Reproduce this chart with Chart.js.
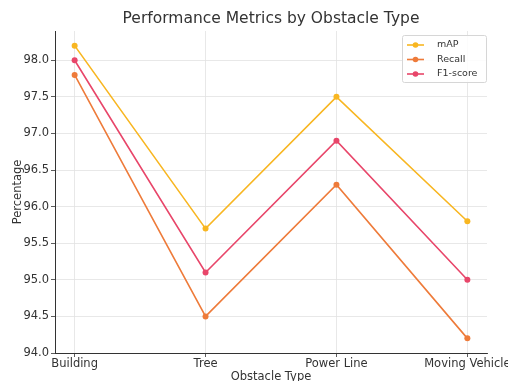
<!DOCTYPE html>
<html>
<head>
<meta charset="utf-8">
<script src="https://cdn.jsdelivr.net/npm/chart.js@4/dist/chart.umd.min.js"></script>
<style>
  html, body { margin: 0; padding: 0; background: #fff; }
  #wrap { width: 508px; height: 381px; }
</style>
</head>
<body>
<div id="wrap"><canvas id="c" width="508" height="381"></canvas></div>
<script>
// Obstacle categories and per-metric scores (%)
const categories = ['Building', 'Tree', 'Power Line', 'Moving Vehicle'];
const mAP = [98.2, 95.7, 97.5, 95.8];
const recall = [97.8, 94.5, 96.3, 94.2];
const f1Score = [98.0, 95.1, 96.9, 95.0];
const yTicks = [94.0, 94.5, 95.0, 95.5, 96.0, 96.5, 97.0, 97.5, 98.0];

const FONT = "'DejaVu Sans', sans-serif";
const TEXT = '#333333';

function toPoints(values) {
  return values.map((v, i) => ({ x: i, y: v }));
}

function series(label, values, color) {
  return {
    label: label,
    data: toPoints(values),
    borderColor: color,
    backgroundColor: color,
    borderWidth: 1.6,
    pointRadius: 3,
    pointHoverRadius: 3,
    pointBorderWidth: 0,
    tension: 0
  };
}

// Title drawn centred over the plot area
const titlePlugin = {
  id: 'plotTitle',
  afterDraw(chart) {
    const { ctx, chartArea } = chart;
    ctx.save();
    ctx.font = '15.5px ' + FONT;
    ctx.fillStyle = TEXT;
    ctx.textAlign = 'center';
    ctx.textBaseline = 'middle';
    ctx.fillText('Performance Metrics by Obstacle Type', (chartArea.left + chartArea.right) / 2, 19);
    ctx.restore();
  }
};

// Boxed legend in the upper-right corner of the plot
const legendPlugin = {
  id: 'boxLegend',
  afterDraw(chart) {
    const { ctx, chartArea } = chart;
    const w = 84, h = 47;
    const x = chartArea.right - w - 1, y = chartArea.top + 4;
    ctx.save();
    ctx.fillStyle = 'rgba(255,255,255,0.85)';
    ctx.strokeStyle = '#d6d6d6';
    ctx.lineWidth = 1;
    ctx.beginPath();
    ctx.roundRect(x + 0.5, y + 0.5, w, h, 2);
    ctx.fill();
    ctx.stroke();
    ctx.font = '9.5px ' + FONT;
    ctx.textBaseline = 'middle';
    ctx.textAlign = 'left';
    chart.data.datasets.forEach((ds, i) => {
      const cy = y + 10 + i * 14.5;
      ctx.strokeStyle = ds.borderColor;
      ctx.fillStyle = ds.borderColor;
      ctx.lineWidth = 1.6;
      ctx.beginPath();
      ctx.moveTo(x + 5, cy);
      ctx.lineTo(x + 22, cy);
      ctx.stroke();
      ctx.beginPath();
      ctx.arc(x + 13.5, cy, 2.8, 0, Math.PI * 2);
      ctx.fill();
      ctx.fillStyle = TEXT;
      ctx.fillText(ds.label, x + 35, cy);
    });
    ctx.restore();
  }
};

const gridStyle = {
  color: '#e2e2e2',
  lineWidth: 0.8,
  borderDash: [2, 1.5],
  drawTicks: true,
  tickLength: 4,
  tickColor: '#333333',
  tickWidth: 0.8,
  tickBorderDash: []
};

new Chart(document.getElementById('c'), {
  type: 'line',
  data: {
    datasets: [
      series('mAP', mAP, '#F8B621'),
      series('Recall', recall, '#EE7B3A'),
      series('F1-score', f1Score, '#E8466A')
    ]
  },
  options: {
    responsive: false,
    animation: false,
    layout: { padding: { top: 31, right: 21, left: 0, bottom: 0 } },
    plugins: {
      legend: { display: false },
      tooltip: { enabled: false },
      title: { display: false }
    },
    scales: {
      x: {
        type: 'linear',
        min: -0.15,
        max: 3.15,
        afterBuildTicks(scale) {
          scale.ticks = categories.map((_, i) => ({ value: i }));
        },
        afterFit(scale) {
          scale.height = 28;
          scale.paddingLeft = 0;
          scale.paddingRight = 0;
        },
        grid: gridStyle,
        border: { display: true, color: '#333333', width: 1 },
        ticks: {
          autoSkip: false,
          maxRotation: 0,
          minRotation: 0,
          padding: 0,
          color: TEXT,
          font: { family: FONT, size: 11.5 },
          callback: (v) => categories[v] ?? ''
        },
        title: {
          display: true,
          text: 'Obstacle Type',
          color: TEXT,
          font: { family: FONT, size: 11.5 },
          padding: { top: 0, bottom: -3 }
        }
      },
      y: {
        type: 'linear',
        min: 94.0,
        max: 98.4,
        afterBuildTicks(scale) {
          scale.ticks = yTicks.map(v => ({ value: v }));
        },
        afterFit(scale) {
          scale.width = 55;
          scale.paddingTop = 0;
          scale.paddingBottom = 0;
        },
        grid: gridStyle,
        border: { display: true, color: '#333333', width: 1 },
        ticks: {
          padding: 2,
          color: TEXT,
          font: { family: FONT, size: 11.5 },
          callback: (v) => Number(v).toFixed(1)
        },
        title: {
          display: true,
          text: 'Percentage',
          color: TEXT,
          font: { family: FONT, size: 11.5 },
          padding: { top: 11, bottom: 0 }
        }
      }
    }
  },
  plugins: [titlePlugin, legendPlugin]
});
</script>
</body>
</html>
